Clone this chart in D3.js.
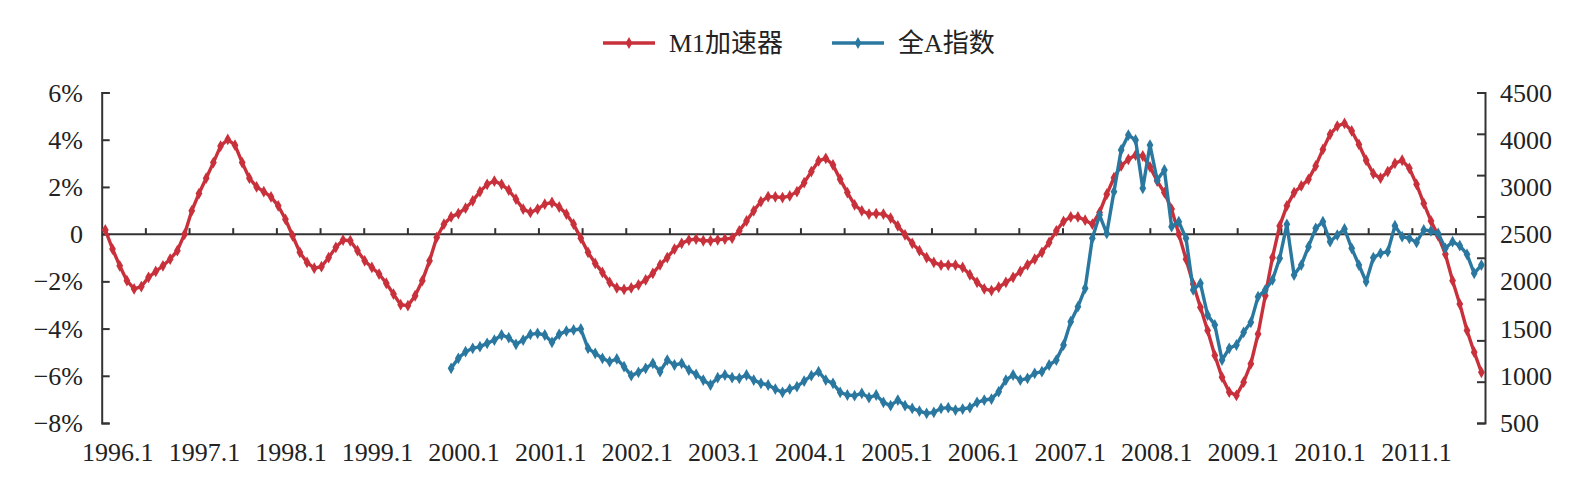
<!DOCTYPE html>
<html><head><meta charset="utf-8">
<script src="https://cdn.jsdelivr.net/npm/d3@7"></script>
<style>
html,body{margin:0;padding:0;background:#fff;}
svg text{font-family:"Liberation Serif","Times New Roman","Noto Sans CJK SC",serif;fill:#222;}
</style></head>
<body><svg id="chart" width="1586" height="486"></svg>
<script>
// ---- data ----
const startYear = 1996, nMonths = 192;
const months = d3.range(nMonths).map(i => `${startYear + Math.floor(i/12)}.${i%12+1}`);
const yearLabels = ["1996.1","1997.1","1998.1","1999.1","2000.1","2001.1","2002.1","2003.1","2004.1","2005.1","2006.1","2007.1","2008.1","2009.1","2010.1","2011.1"];
const leftTicks = [6,4,2,0,-2,-4,-6,-8];
const leftTickLabels = ["6%","4%","2%","0","\u22122%","\u22124%","\u22126%","\u22128%"];
const rightTicks = [4500,4000,3500,3000,2500,2000,1500,1000,500];
const rightTickLabels = ["4500","4000","3000","2500","2000","1500","1000","500"];
const seriesNames = ["M1加速器","全A指数"];
const m1Accel = [0.18,-0.63,-1.34,-1.97,-2.32,-2.22,-1.83,-1.58,-1.34,-1.06,-0.70,0.00,
0.99,1.72,2.37,3.03,3.73,4.01,3.77,3.03,2.37,2.00,1.80,1.58,
1.20,0.63,-0.07,-0.77,-1.20,-1.44,-1.38,-0.99,-0.56,-0.25,-0.28,-0.70,
-1.13,-1.41,-1.69,-2.08,-2.54,-2.99,-3.03,-2.61,-1.97,-1.13,-0.14,0.42,
0.73,0.87,1.10,1.41,1.80,2.11,2.25,2.11,1.86,1.48,1.06,0.92,
1.06,1.27,1.34,1.15,0.85,0.42,-0.17,-0.77,-1.24,-1.62,-2.04,-2.28,
-2.34,-2.28,-2.15,-1.94,-1.66,-1.30,-0.99,-0.63,-0.39,-0.25,-0.21,-0.28,
-0.28,-0.24,-0.21,-0.17,0.14,0.56,0.99,1.38,1.59,1.58,1.55,1.62,
1.80,2.18,2.65,3.10,3.21,2.93,2.32,1.76,1.24,0.99,0.85,0.87,
0.85,0.68,0.35,-0.03,-0.39,-0.70,-0.99,-1.20,-1.31,-1.31,-1.31,-1.41,
-1.72,-2.04,-2.32,-2.39,-2.25,-2.04,-1.83,-1.58,-1.30,-1.06,-0.77,-0.35,
0.14,0.54,0.73,0.73,0.59,0.42,0.92,1.69,2.39,2.89,3.17,3.35,
3.31,2.85,2.25,1.76,1.06,0.00,-1.06,-2.11,-3.10,-4.08,-5.14,-6.06,
-6.69,-6.83,-6.27,-5.49,-4.23,-2.61,-0.99,0.35,1.20,1.76,2.04,2.32,
2.89,3.59,4.23,4.58,4.69,4.37,3.80,3.13,2.56,2.37,2.65,3.00,
3.13,2.79,2.11,1.30,0.56,-0.07,-0.85,-1.97,-2.96,-4.08,-5.00,-5.85];
const allAStart = "2000.1";
const allAIndex = [1162,1283,1363,1404,1424,1464,1504,1565,1533,1452,1504,1573,
1585,1565,1476,1573,1613,1626,1638,1404,1343,1283,1242,1275,
1182,1073,1113,1162,1222,1121,1262,1202,1222,1141,1089,1020,
960,1049,1081,1049,1041,1081,1020,980,960,911,871,911,
940,1008,1073,1121,1020,980,871,839,831,859,807,839,
750,710,778,710,677,645,617,629,677,686,657,669,
686,750,778,790,879,1020,1081,1020,1041,1101,1121,1202,
1262,1444,1726,1908,2130,2735,3017,2795,3300,3804,3985,3925,
3340,3864,3441,3562,2876,2937,2735,2110,2190,1807,1686,1262,
1404,1444,1597,1718,2029,2110,2231,2493,2904,2291,2412,2634,
2856,2937,2694,2775,2848,2614,2412,2210,2501,2553,2573,2888,
2755,2735,2686,2836,2824,2795,2614,2694,2646,2541,2311,2412];

// ---- layout ----
const colors = ["#c8313b", "#2a78a0"];
const L = 101.7, R = 1485, T = 92.5, B = 423;
const svg = d3.select("#chart");

const x = d3.scalePoint().domain(months).range([L, R]).padding(0.5);
const yL = d3.scaleLinear().domain([-8, 6]).range([B, T]);
const yR = d3.scaleLinear().domain([500, 4500]).range([B, T]);
const xTick = d3.scaleLinear().domain([0, 192]).range([L, 1499.2]);
const xLab = d3.scaleLinear().domain([0, 180]).range([117.3, 1416]);

// left axis
const gL = svg.append("g").attr("transform", `translate(${L},0)`)
  .call(d3.axisRight(yL).tickValues(leftTicks).tickSize(8).tickSizeOuter(8).tickFormat(""));
gL.selectAll("path,line").attr("stroke", "#333").attr("stroke-width", 2);
svg.append("g").selectAll("text").data(leftTicks).join("text")
  .attr("x", 83).attr("y", d => yL(d)).attr("dy", "0.35em")
  .attr("text-anchor", "end").attr("font-size", 26)
  .text((d, i) => leftTickLabels[i]);

// right axis
const gR = svg.append("g").attr("transform", `translate(${R},0)`)
  .call(d3.axisLeft(yR).tickValues(rightTicks).tickSize(8).tickSizeOuter(8).tickFormat(""));
gR.selectAll("path,line").attr("stroke", "#333").attr("stroke-width", 2);
svg.append("g").selectAll("text").data(rightTickLabels).join("text")
  .attr("x", 1500).attr("y", (d, i) => yL(leftTicks[i])).attr("dy", "0.35em")
  .attr("text-anchor", "start").attr("font-size", 26)
  .text(d => d);

// zero line with half-year ticks
const y0 = yL(0);
const gX = svg.append("g").attr("transform", `translate(0,${y0})`)
  .call(d3.axisTop(xTick).tickValues(d3.range(6, 187, 6)).tickSize(6).tickSizeOuter(0).tickFormat(""));
gX.select("path").attr("d", `M${L},0H${R}`);
gX.selectAll("path,line").attr("stroke", "#333").attr("stroke-width", 2);

// x labels
const gXL = svg.append("g").attr("transform", `translate(0,452)`)
  .call(d3.axisBottom(xLab).tickValues(d3.range(0, 181, 12)).tickSize(0)
    .tickFormat((d, i) => yearLabels[i]));
gXL.attr("font-family", null).attr("font-size", null);
gXL.select("path").remove();
gXL.selectAll("text").attr("y", 0).attr("dy", "0.35em").attr("font-size", 26).attr("fill", "#222");

// series
const redData = m1Accel.map((v, i) => ({ m: months[i], v }));
const s0 = months.indexOf(allAStart);
const blueData = allAIndex.map((v, i) => ({ m: months[s0 + i], v }));
const diamond = d3.symbol(d3.symbolDiamond, 40);

function drawSeries(data, yScale, color) {
  const g = svg.append("g");
  g.append("path").datum(data)
    .attr("fill", "none").attr("stroke", color).attr("stroke-width", 3.4)
    .attr("stroke-linejoin", "round")
    .attr("d", d3.line().x(d => x(d.m)).y(d => yScale(d.v)));
  g.selectAll("path.pt").data(data).join("path").attr("class", "pt")
    .attr("d", diamond).attr("fill", color)
    .attr("transform", d => `translate(${x(d.m)},${yScale(d.v)})`);
}
drawSeries(redData, yL, colors[0]);
drawSeries(blueData, yR, colors[1]);

// legend
const legend = [
  { name: seriesNames[0], color: colors[0], x0: 603 },
  { name: seriesNames[1], color: colors[1], x0: 832 }
];
const lg = svg.append("g");
legend.forEach(l => {
  lg.append("line").attr("x1", l.x0).attr("x2", l.x0 + 52).attr("y1", 43).attr("y2", 43)
    .attr("stroke", l.color).attr("stroke-width", 3.4);
  lg.append("path").attr("d", diamond).attr("fill", l.color)
    .attr("transform", `translate(${l.x0 + 26},43)`);
  lg.append("text").attr("x", l.x0 + 66).attr("y", 43).attr("dy", "0.35em")
    .attr("font-size", 26).text(l.name);
});
</script></body></html>
